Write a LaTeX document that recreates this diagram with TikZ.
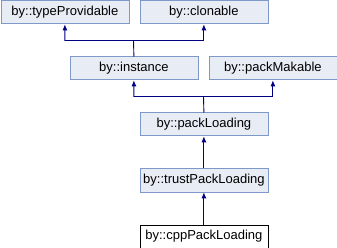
\documentclass[tikz,border=0pt]{standalone}
\usepackage{fontspec}
\setmainfont{Liberation Sans}
\usetikzlibrary{arrows.meta}
\definecolor{boxfill}{HTML}{E8ECF5}
\definecolor{boxline}{HTML}{7E98C8}
\definecolor{edgecol}{HTML}{000080}
\begin{document}
\begin{tikzpicture}[x=1pt,y=-1pt,
  cls/.style={draw=boxline,fill=boxfill,line width=0.8pt,minimum width=128pt,minimum height=23pt,inner sep=0pt,font=\fontsize{13}{15}\selectfont,anchor=north west},
  cur/.style={cls,draw=black,fill=white},
  inh/.style={draw=edgecol,line width=0.9pt,-{Latex[length=6pt,width=5pt]}}]
\useasboundingbox (0,0) rectangle (337,248);
\node[cls] (tp) at (0.5,0.5) {by::typeProvidable};
\node[cls] (cl) at (139.5,0.5) {by::clonable};
\node[cls] (in) at (69.5,56.5) {by::instance};
\node[cls] (pm) at (208.5,56.5) {by::packMakable};
\node[cls] (pl) at (139.5,112.5) {by::packLoading};
\node[cls] (tl) at (139.5,168.5) {by::trustPackLoading};
\node[cur] (cp) at (139.5,224.5) {by::cppPackLoading};
\coordinate (j1) at (133.5,40.5);
\coordinate (j2) at (203.5,96.5);
\draw[inh] (in.north) -- (j1) -| (tp.south);
\draw[inh] (j1) -| (cl.south);
\draw[inh] (pl.north) -- (j2) -| (in.south);
\draw[inh] (j2) -| (pm.south);
\draw[inh] (tl.north) -- (pl.south);
\draw[inh] (cp.north) -- (tl.south);
\end{tikzpicture}
\end{document}
